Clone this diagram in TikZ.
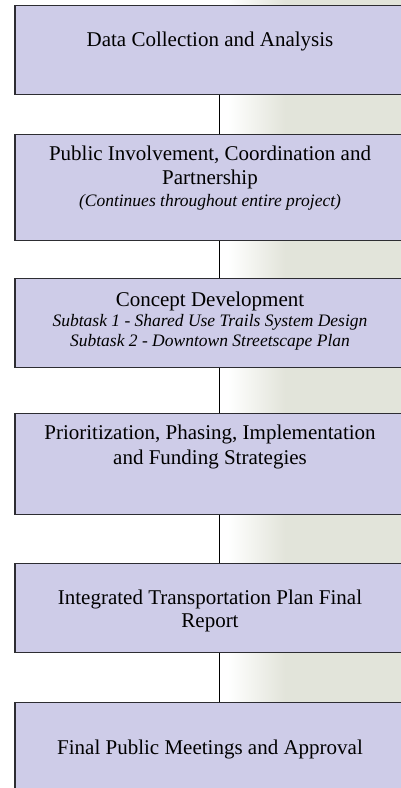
\documentclass[tikz,border=0pt]{standalone}
\usepackage{fontspec}
\setmainfont{Liberation Serif}
\definecolor{boxfill}{RGB}{206,204,232}
\definecolor{boxline}{RGB}{45,45,50}
\definecolor{pagetint}{RGB}{226,228,218}
\begin{document}
\begin{tikzpicture}[x=1pt,y=1pt,
  stage/.style={draw=boxline, line width=1.5pt, fill=boxfill,
    minimum width=410pt, inner sep=0pt, anchor=north west},
  head/.style={font=\fontsize{21}{25}\selectfont, anchor=base, inner sep=0pt},
  note/.style={font=\fontsize{17.5}{20}\selectfont\itshape, anchor=base, inner sep=0pt},
  link/.style={line width=1.4pt, draw=black}]
\useasboundingbox (0,0) rectangle (401,788);
\begin{scope}
  \clip (0,0) rectangle (401,788);
  % page background: white fading into a grey-green band on the right
  \fill[white] (0,0) rectangle (401,788);
  \shade[left color=white, right color=pagetint] (228,0) rectangle (285,788);
  \fill[pagetint] (285,0) rectangle (401,788);

  % stage boxes (they run past the right and bottom edges)
  \node[stage, minimum height=89pt]  (b1) at (14,783) {};
  \node[stage, minimum height=106pt] (b2) at (14,654) {};
  \node[stage, minimum height=89pt]  (b3) at (14,510) {};
  \node[stage, minimum height=101pt] (b4) at (14,375) {};
  \node[stage, minimum height=89pt]  (b5) at (14,225) {};
  \node[stage, minimum height=110pt] (b6) at (14,86) {};

  % connectors between consecutive stages
  \draw[link] (b1.south) -- (b2.north);
  \draw[link] (b2.south) -- (b3.north);
  \draw[link] (b3.south) -- (b4.north);
  \draw[link] (b4.south) -- (b5.north);
  \draw[link] (b5.south) -- (b6.north);

  % labels
  \node[head] (t1) at (210,741.3) {Data Collection and Analysis};
  \node[head] (t2a) at (210,627.3) {Public Involvement, Coordination and};
  \node[head] (t2b) at (210,603) {Partnership};
  \node[note] (t2c) at (210,581) {(Continues throughout entire project)};
  \node[head] (t3a) at (210,481.3) {Concept Development};
  \node[note] (t3b) at (210,461) {Subtask 1 - Shared Use Trails System Design};
  \node[note] (t3c) at (210,441.3) {Subtask 2 - Downtown Streetscape Plan};
  \node[head] (t4a) at (210,348) {Prioritization, Phasing, Implementation};
  \node[head] (t4b) at (210,323) {and Funding Strategies};
  \node[head] (t5a) at (210,183) {Integrated Transportation Plan Final};
  \node[head] (t5b) at (210,160) {Report};
  \node[head] (t6) at (210,33) {Final Public Meetings and Approval};
\end{scope}
\end{tikzpicture}
\end{document}
